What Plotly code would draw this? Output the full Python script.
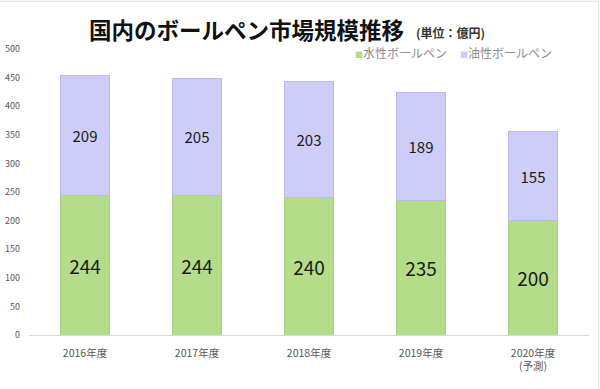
import plotly.graph_objects as go

categories = ["2016年度", "2017年度", "2018年度", "2019年度", "2020年度<br>(予測)"]
water_based = [244, 244, 240, 235, 200]
oil_based = [209, 205, 203, 189, 155]
y_ticks = [0, 50, 100, 150, 200, 250, 300, 350, 400, 450, 500]
series_names = ["水性ボールペン", "油性ボールペン"]
series_colors = ["#b4dd8a", "#cdcdf8"]

font_family = "Noto Sans CJK JP, Noto Sans, sans-serif"

fig = go.Figure()
fig.add_trace(go.Bar(
    x=categories, y=water_based, name=series_names[0],
    marker=dict(color=series_colors[0], line=dict(color="#a8d47c", width=1)),
    text=[str(v) for v in water_based], textposition="inside", insidetextanchor="middle",
    textfont=dict(size=19, color="#1a1a1a", family=font_family),
    width=0.43,
))
fig.add_trace(go.Bar(
    x=categories, y=oil_based, name=series_names[1],
    marker=dict(color=series_colors[1], line=dict(color="#b8b8ea", width=1)),
    text=[str(v) for v in oil_based], textposition="inside", insidetextanchor="middle",
    textfont=dict(size=15, color="#1a1a1a", family=font_family),
    width=0.43,
))

fig.update_layout(
    barmode="stack",
    width=600, height=389, autosize=False,
    paper_bgcolor="white", plot_bgcolor="white",
    margin=dict(l=29, r=11, t=49, b=54),
    font=dict(family=font_family, color="#595959"),
    showlegend=False,
    uniformtext=dict(mode=False),
)
fig.update_yaxes(range=[0, 500], tickvals=y_ticks, showgrid=False, zeroline=False,
                 showline=False, ticks="", tickfont=dict(size=9, color="#595959"),
                 automargin=False, ticklabelstandoff=8)
fig.update_xaxes(showline=True, linecolor="#d9d9d9", linewidth=1, ticks="",
                 tickfont=dict(size=10.5, color="#595959"), automargin=False,
                 ticklabelstandoff=8)

# legend drawn as annotations (keeps the plot area from being squeezed)
for lx, name, color in zip([0.5786, 0.766], series_names, series_colors):
    fig.add_annotation(xref="paper", yref="paper", x=lx, y=0.9895, xanchor="left", yanchor="middle",
                       text=f"<span style='color:{color};font-size:8px'>■</span>{name}",
                       showarrow=False, font=dict(size=12, color="#8c8c8c", family=font_family))

fig.add_annotation(xref="paper", yref="paper", x=0.104, y=1.070, xanchor="left", yanchor="middle",
                   text="<b>国内のボールペン市場規模推移</b>", showarrow=False,
                   font=dict(size=22.5, color="#111111", family=font_family))
fig.add_annotation(xref="paper", yref="paper", x=0.687, y=1.059, xanchor="left", yanchor="middle",
                   text="<b>(単位：億円)</b>", showarrow=False,
                   font=dict(size=12, color="#333333", family=font_family))

fig.add_shape(type="rect", xref="paper", yref="paper", x0=-0.06, x1=1.017, y0=-0.25, y1=1.167,
              line=dict(color="#e0e0e0", width=1))

fig.write_html("out.html", config={"responsive": False, "displayModeBar": False},
               post_script="document.body.style.margin='0';document.body.style.overflow='hidden';")
